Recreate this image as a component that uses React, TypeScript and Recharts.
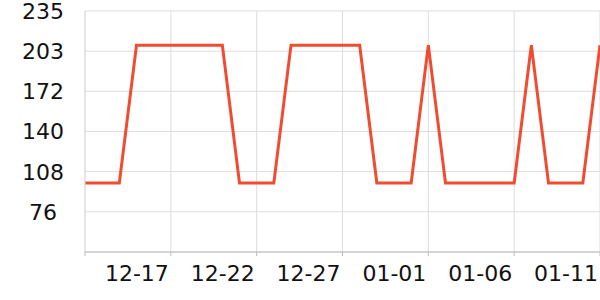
import { CartesianGrid, Line, LineChart, XAxis, YAxis } from "recharts";

const dates = [
  "12-12", "12-13", "12-14", "12-15", "12-16", "12-17", "12-18", "12-19",
  "12-20", "12-21", "12-22", "12-23", "12-24", "12-25", "12-26", "12-27",
  "12-28", "12-29", "12-30", "12-31", "01-01", "01-02", "01-03", "01-04",
  "01-05", "01-06", "01-07", "01-08", "01-09", "01-10", "01-11",
];

const values = [
  99, 99, 99, 208, 208, 208, 208, 208,
  208, 99, 99, 99, 208, 208, 208, 208,
  208, 99, 99, 99, 208, 99, 99, 99,
  99, 99, 208, 99, 99, 99, 208,
];

const xTicks = ["12-12", "12-17", "12-22", "12-27", "01-01", "01-06", "01-11"];
const yTicks = [44.4, 76.2, 108, 139.7, 171.5, 203.2, 235];

const data = dates.map((date, i) => ({ date, value: values[i] }));

const FONT = "DejaVu Sans, sans-serif";

function XTick({ x, y, payload }: any) {
  // first tick sits under the y axis labels, so no text there
  if (payload.value === xTicks[0]) return null;
  return (
    <text x={x - 2} y={y + 23} textAnchor="end" fontSize={22} fontFamily={FONT} fill="#111">
      {payload.value}
    </text>
  );
}

function YTick({ y, payload }: any) {
  if (payload.value === yTicks[0]) return null;
  return (
    <text x={43} y={y} dy="0.36em" textAnchor="middle" fontSize={22} fontFamily={FONT} fill="#111">
      {Math.round(payload.value)}
    </text>
  );
}

export default function App() {
  return (
    <div style={{ position: "absolute", left: 0, top: 0, width: 600, height: 300 }}>
      <LineChart width={600} height={300} data={data} margin={{ top: 11, right: 0, left: 0, bottom: 0 }}>
        <CartesianGrid stroke="#dddddd" />
        <XAxis
          dataKey="date"
          ticks={xTicks}
          interval={0}
          height={48}
          stroke="#bbbbbb"
          tickSize={4}
          tick={<XTick />}
        />
        <YAxis
          type="number"
          domain={[44.4, 235]}
          ticks={yTicks}
          width={85}
          axisLine={{ stroke: "#dddddd" }}
          tickLine={false}
          tick={<YTick />}
        />
        <Line
          type="linear"
          dataKey="value"
          stroke="#f04c30"
          strokeWidth={3}
          dot={false}
          isAnimationActive={false}
        />
      </LineChart>
    </div>
  );
}
